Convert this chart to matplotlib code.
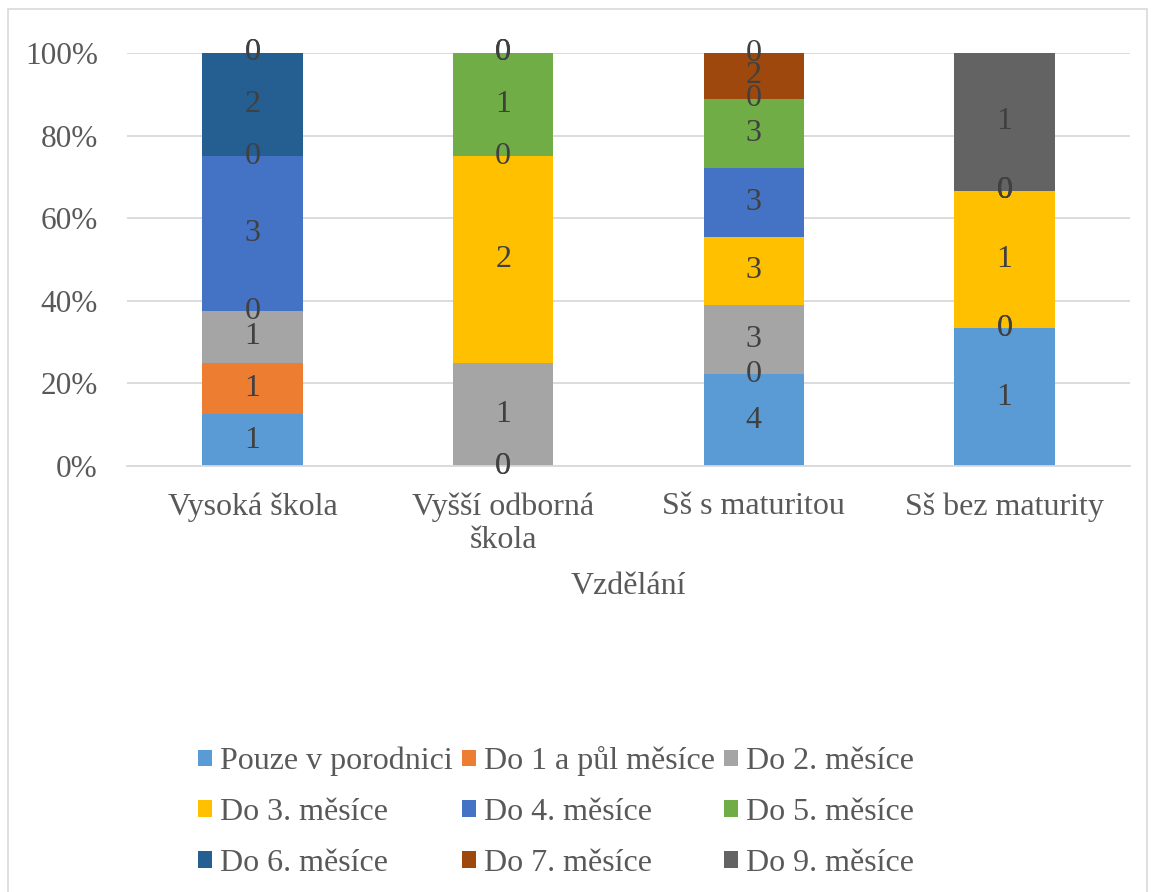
import numpy as np
import matplotlib
matplotlib.use('Agg')
import matplotlib.pyplot as plt
from matplotlib.patches import Patch, Rectangle

# Education groups and number of mothers per breastfeeding duration
categories = ['Vysoká škola', 'Vyšší odborná\nškola', 'Sš s maturitou', 'Sš bez maturity']
series_names = ['Pouze v porodnici', 'Do 1 a půl měsíce', 'Do 2. měsíce',
                'Do 3. měsíce', 'Do 4. měsíce', 'Do 5. měsíce',
                'Do 6. měsíce', 'Do 7. měsíce', 'Do 9. měsíce']
counts = {
    'Pouze v porodnici': [1, 0, 4, 1],
    'Do 1 a půl měsíce': [1, 0, 0, 0],
    'Do 2. měsíce':      [1, 1, 3, 0],
    'Do 3. měsíce':      [0, 2, 3, 1],
    'Do 4. měsíce':      [3, 0, 3, 0],
    'Do 5. měsíce':      [0, 1, 3, 0],
    'Do 6. měsíce':      [2, 0, 0, 0],
    'Do 7. měsíce':      [0, 0, 2, 0],
    'Do 9. měsíce':      [0, 0, 0, 1],
}
colors = ['#5B9BD5', '#ED7D31', '#A5A5A5', '#FFC000', '#4472C4',
          '#70AD47', '#255E91', '#9E480E', '#636363']
yticks = [0, 0.2, 0.4, 0.6, 0.8, 1.0]
ytick_labels = ['0%', '20%', '40%', '60%', '80%', '100%']

plt.rcParams['font.family'] = ['Liberation Serif', 'DejaVu Serif']
FS = 23

W, H = 1155, 892
fig = plt.figure(figsize=(W / 100, H / 100), dpi=100)
fig.patches.append(Rectangle((8 / W, -0.01), (W - 16) / W, (H - 9) / H + 0.01,
                             transform=fig.transFigure, fill=False,
                             edgecolor='#D9D9D9', linewidth=1.2))

ax = fig.add_axes([127 / W, (H - 466) / H, (1130 - 127) / W, (466 - 53) / H])

x = np.arange(len(categories))
totals = np.sum([counts[s] for s in series_names], axis=0).astype(float)
bottom = np.zeros(len(categories))
handles = []
for name, col in zip(series_names, colors):
    vals = np.array(counts[name], dtype=float)
    share = vals / totals
    bars = ax.bar(x, share, width=0.4, bottom=bottom, color=col, zorder=2)
    ax.bar_label(bars, labels=[str(int(v)) for v in vals], label_type='center',
                 fontsize=FS, color='#404040', zorder=3)
    bottom += share
    handles.append(Patch(facecolor=col, label=name))

ax.set_xlim(-0.5, 3.5)
ax.set_ylim(0, 1)
ax.set_yticks(yticks)
ax.set_yticklabels(ytick_labels)
ax.set_xticks(x)
ax.set_xticklabels(categories, linespacing=1.2)
ax.tick_params(axis='both', length=0, labelsize=FS, labelcolor='#595959')
ax.tick_params(axis='y', pad=21, labelsize=22.5)
ax.tick_params(axis='x', pad=19)
ax.grid(axis='y', color='#D9D9D9', linewidth=1.3, zorder=0)
for side in ['left', 'right', 'top']:
    ax.spines[side].set_visible(False)
ax.spines['bottom'].set_color('#D9D9D9')
ax.spines['bottom'].set_linewidth(1.3)
ax.set_xlabel('Vzdělání', fontsize=FS, color='#595959', labelpad=12)

# legend entries laid out row by row
order = [r * 3 + c for c in range(3) for r in range(3)]
fig.legend([handles[i] for i in order], [series_names[i] for i in order],
           ncol=3, loc='center', bbox_to_anchor=(556 / W, 1 - 812 / H),
           frameon=False, fontsize=FS, labelcolor='#595959',
           handlelength=0.42, handleheight=0.42, handletextpad=0.25,
           columnspacing=0.3, labelspacing=0.68)

fig.savefig('out.png', dpi=100)
